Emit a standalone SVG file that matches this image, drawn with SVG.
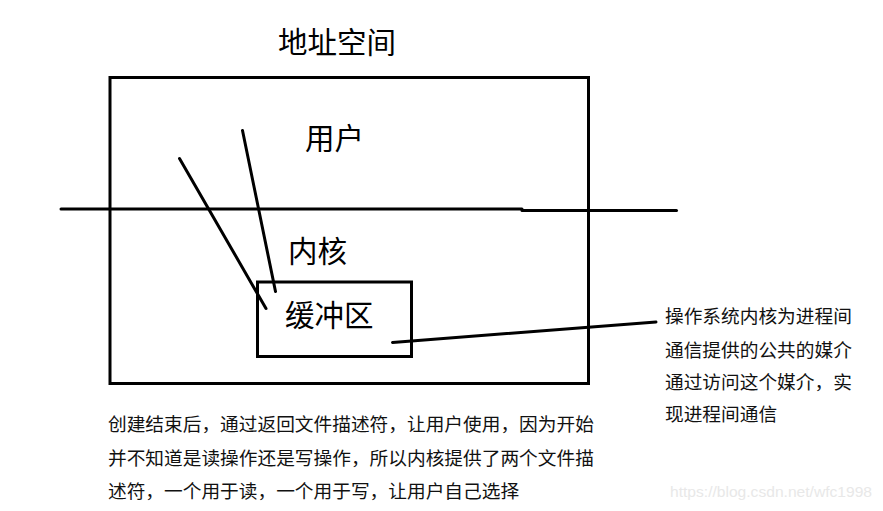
<svg xmlns="http://www.w3.org/2000/svg" width="883" height="511" viewBox="0 0 883 511">
  <style>
    .box { fill: none; stroke: #000; stroke-width: 3; }
    .ln { stroke: #000; stroke-width: 3; stroke-linecap: round; fill: none; }
    .big { font-family: "Noto Sans CJK SC", "Microsoft YaHei", sans-serif; font-size: 29.5px; fill: #000; }
    .small { font-family: "Noto Sans CJK SC", "Microsoft YaHei", sans-serif; font-size: 18.7px; fill: #111; }
    .wm { font-family: "Liberation Sans", Arial, sans-serif; font-size: 15px; fill: #e8e8e8; }
  </style>
  <rect width="883" height="511" fill="#fff"/>
  <g id="address-space">
    <rect class="box" x="110" y="77.5" width="478.5" height="306"/>
    <text class="big" x="278" y="53">地址空间</text>
  </g>
  <g id="user">
    <text class="big" x="305" y="149">用户</text>
  </g>
  <g id="kernel">
    <text class="big" x="288" y="262">内核</text>
  </g>
  <g id="buffer">
    <rect class="box" x="257.5" y="282" width="154" height="74.5"/>
    <text class="big" x="285" y="326">缓冲区</text>
  </g>
  <g id="connectors">
    <line class="ln" x1="61" y1="209" x2="522" y2="209"/>
    <line class="ln" x1="522" y1="210.5" x2="676.5" y2="210.5"/>
    <line class="ln" x1="179.5" y1="158.5" x2="266" y2="308.5"/>
    <line class="ln" x1="242.5" y1="130.5" x2="275.5" y2="291.5"/>
    <line class="ln" x1="392.5" y1="342.5" x2="656" y2="322"/>
  </g>
  <g id="note">
    <text class="small" x="665" y="323">操作系统内核为进程间</text>
    <text class="small" x="665" y="357">通信提供的公共的媒介</text>
    <text class="small" x="665" y="389">通过访问这个媒介，实</text>
    <text class="small" x="665" y="421">现进程间通信</text>
  </g>
  <g id="description">
    <text class="small" x="108" y="431">创建结束后，通过返回文件描述符，让用户使用，因为开始</text>
    <text class="small" x="108" y="465">并不知道是读操作还是写操作，所以内核提供了两个文件描</text>
    <text class="small" x="108" y="498">述符，一个用于读，一个用于写，让用户自己选择</text>
  </g>
  <g id="watermark">
    <text class="wm" x="670" y="497" textLength="202" lengthAdjust="spacingAndGlyphs">https://blog.csdn.net/wfc1998</text>
  </g>
</svg>
